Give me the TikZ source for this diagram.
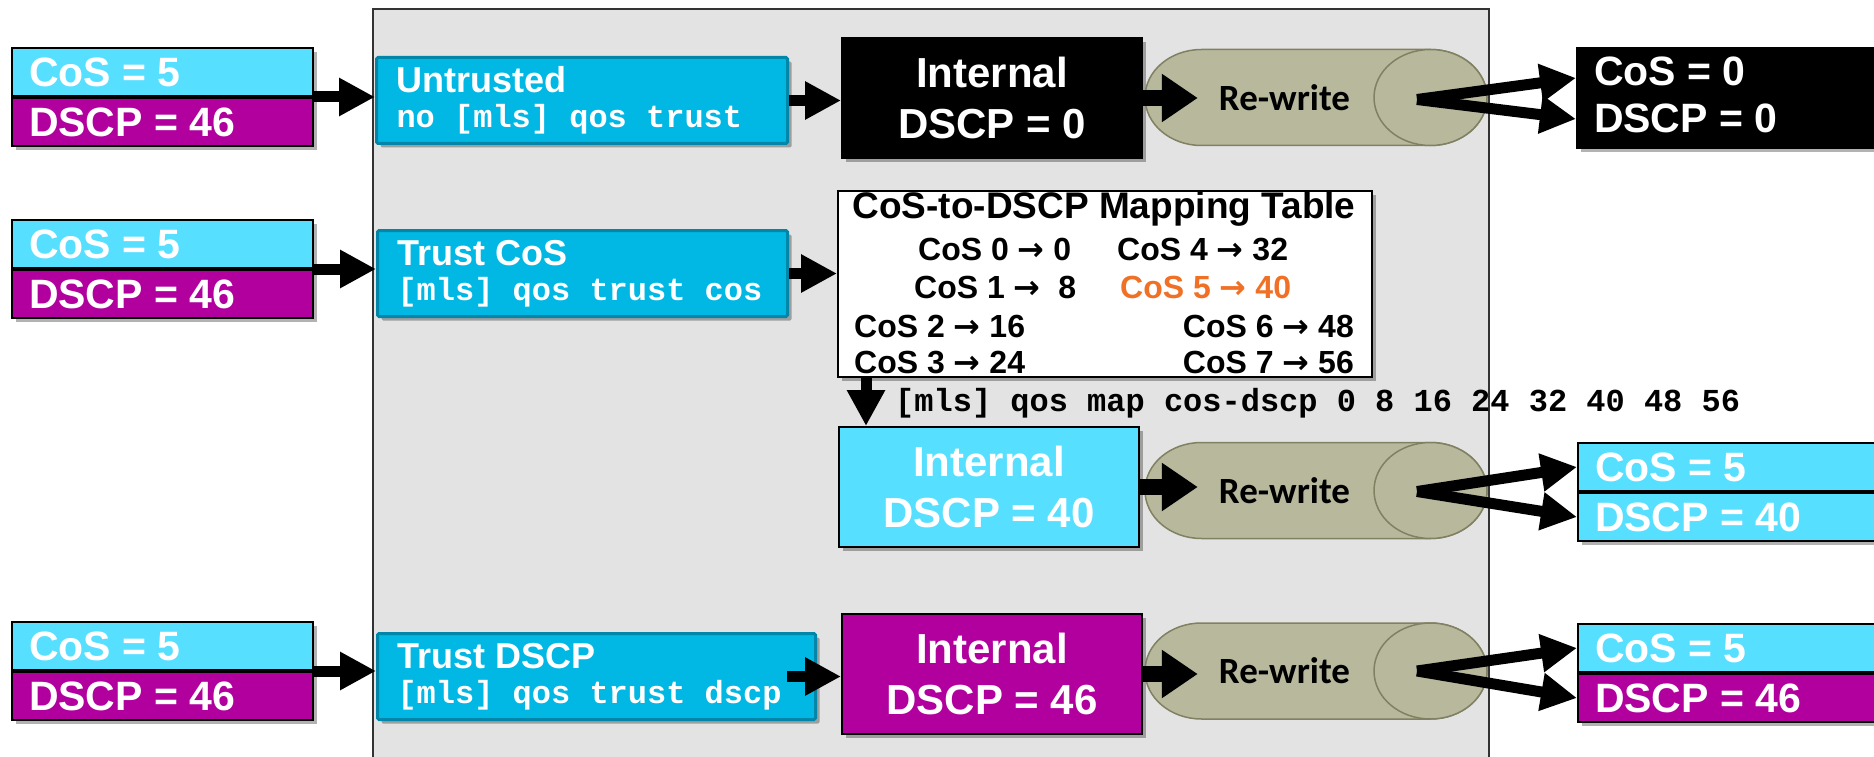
\documentclass[tikz,border=0pt]{standalone}
\usepackage{fontspec}
\setmainfont{Liberation Sans}
\setmonofont{Liberation Mono}
\newfontfamily\arrowfont{DejaVu Sans}
\newfontfamily\rwfont{Carlito}
\usepackage{tikz}
\usetikzlibrary{arrows.meta,positioning,calc,shadows}
\definecolor{pktcyan}{HTML}{57DFFF}
\definecolor{pktpurple}{HTML}{B1009E}
\definecolor{trustfill}{HTML}{00B8E3}
\definecolor{trustline}{HTML}{0086A8}
\definecolor{panelgray}{HTML}{E3E3E3}
\definecolor{rwfill}{HTML}{B8B89D}
\definecolor{rwline}{HTML}{808062}
\definecolor{maporange}{HTML}{F07125}
\newcommand{\mapto}{{\arrowfont\bfseries →}}
% re-write cylinder drawn over an invisible box node
\newcommand{\rwcyl}[1]{%
  \draw[rwpath] ($(#1.north west)+(56.5,0)$) -- ($(#1.north east)+(-56.5,0)$)
    arc[start angle=90,end angle=-90,x radius=56.5pt,y radius=48pt]
    -- ($(#1.south west)+(56.5,0)$)
    arc[start angle=270,end angle=90,x radius=56.5pt,y radius=48pt] -- cycle;
  \draw[rwpath] ($(#1.east)+(-56.5,0)$) ellipse[x radius=56.5pt,y radius=48pt];}

\begin{document}
\begin{tikzpicture}[
    x=1pt, y=-1pt,
    boxshadow/.style={drop shadow={shadow xshift=4pt,shadow yshift=-4pt,fill=black,opacity=.3}},
    pkt/.style={draw=black,line width=2pt,text=white,font=\fontsize{41}{47}\selectfont\bfseries,
      minimum width=301pt,minimum height=48pt,text width=267pt,inner xsep=17pt,inner ysep=0pt,align=flush left,boxshadow},
    pktc/.style={pkt,fill=pktcyan},
    pktd/.style={pkt,fill=pktpurple},
    outw/.style={minimum width=340pt,text width=306pt},
    trust/.style={draw=trustline,line width=3pt,fill=trustfill,rounded corners=1.5pt,text=white,
      font=\fontsize{36}{35}\selectfont\bfseries,minimum height=86pt,inner xsep=20pt,anchor=north west,align=flush left,boxshadow},
    cli/.style={font=\fontsize{32}{35}\selectfont\ttfamily\bfseries},
    intl/.style={draw=black,line width=2pt,text=white,font=\fontsize{42}{51}\selectfont\bfseries,
      minimum width=300pt,minimum height=120pt,anchor=north west,align=center,boxshadow},
    rw/.style={minimum width=342pt,minimum height=96pt,inner sep=0pt,outer sep=0pt},
    rwpath/.style={draw=rwline,line width=1.5pt,fill=rwfill},
    rwt/.style={font=\fontsize{37}{40}\selectfont\rwfont\bfseries,inner xsep=21pt},
    maptxt/.style={font=\fontsize{32}{34}\selectfont\bfseries,anchor=base west,inner sep=0pt},
    big/.style={line width=11pt,-{Triangle[length=36pt,width=36pt]}},
    bigin/.style={line width=16pt,-{Triangle[length=36pt,width=46pt]}}
  ]
  \useasboundingbox (0,0) rectangle (1874,757);
  \clip (0,0) rectangle (1874,757);

  % switch panel
  \node[draw=black!80,line width=2pt,fill=panelgray,anchor=north west,minimum width=1116pt,
    minimum height=800pt,inner sep=0pt] (panel) at (372,8) {};

  % untrusted port
  \node[pktc,anchor=north west] (in1c) at (11,47) {CoS = 5};
  \node[pktd,below=0pt of in1c] (in1d) {DSCP = 46};
  \node[trust,text width=371pt] (tr1) at (375,56)
    {Untrusted\\{\fontsize{32}{35}\selectfont\ttfamily no [mls] qos trust}};
  \node[intl,fill=black] (int1) at (841,37) {Internal\\DSCP = 0};
  \node[rw] (rw1) at (1316,97.5) {};
  \rwcyl{rw1}
  \node[rwt] (rw1t) at (1284.5,97.5) {Re-write};
  \node[pkt,outw,fill=black,anchor=north west,minimum height=100pt] (out1) at (1576,47)
    {CoS = 0\\DSCP = 0\rule[-7pt]{0pt}{7pt}};
  \coordinate (rw1o) at ($(rw1.east)+(-70,2)$);

  % trust cos
  \node[pktc,anchor=north west] (in2c) at (11,219) {CoS = 5};
  \node[pktd,below=0pt of in2c] (in2d) {DSCP = 46};
  \node[trust,text width=370pt] (tr2) at (376,229)
    {Trust CoS\\{\fontsize{32}{35}\selectfont\ttfamily [mls] qos trust cos}};
  \node[draw=black,line width=2pt,fill=white,anchor=north west,minimum width=534pt,
    minimum height=186pt,boxshadow] (tbl) at (837,190) {};
  \node[font=\fontsize{37}{40}\selectfont\bfseries,anchor=base,inner sep=0pt] (ttl) at (1104,218)
    {CoS-to-DSCP Mapping Table};
  \node[maptxt] (m0) at (918,260) {CoS 0 \mapto{} 0};
  \node[maptxt] (m4) at (1117,260) {CoS 4 \mapto{} 32};
  \node[maptxt] (m1) at (914,298) {CoS 1 \mapto{} \ 8};
  \node[maptxt,text=maporange] (m5) at (1120,298) {CoS 5 \mapto{} 40};
  \node[maptxt] (m2) at (854,337) {CoS 2 \mapto{} 16};
  \node[maptxt,anchor=base east] (m6) at (1354,337) {CoS 6 \mapto{} 48};
  \node[maptxt] (m3) at (854,373) {CoS 3 \mapto{} 24};
  \node[maptxt,anchor=base east] (m7) at (1354,373) {CoS 7 \mapto{} 56};
  \node[cli,anchor=base west,inner sep=0pt] (mapcmd) at (895,411)
    {[mls] qos map cos-dscp 0 8 16 24 32 40 48 56};
  \node[intl,fill=pktcyan] (int2) at (838,426) {Internal\\DSCP = 40};
  \node[rw] (rw2) at (1316,490.5) {};
  \rwcyl{rw2}
  \node[rwt] (rw2t) at (1284.5,490.5) {Re-write};
  \node[pkt,outw,fill=pktcyan,anchor=north west] (out2c) at (1577,442) {CoS = 5};
  \node[pkt,outw,fill=pktcyan,below=0pt of out2c] (out2d) {DSCP = 40};
  \coordinate (rw2o) at ($(rw2.east)+(-70,1)$);

  % trust dscp
  \node[pktc,anchor=north west] (in3c) at (11,621) {CoS = 5};
  \node[pktd,below=0pt of in3c] (in3d) {DSCP = 46};
  \node[trust,text width=398pt] (tr3) at (376,632)
    {Trust DSCP\\{\fontsize{32}{35}\selectfont\ttfamily [mls] qos trust dscp}};
  \node[intl,fill=pktpurple] (int3) at (841,613) {Internal\\DSCP = 46};
  \node[rw] (rw3) at (1316,671) {};
  \rwcyl{rw3}
  \node[rwt] (rw3t) at (1284.5,671) {Re-write};
  \node[pkt,outw,fill=pktcyan,anchor=north west] (out3c) at (1577,623) {CoS = 5};
  \node[pkt,outw,fill=pktpurple,below=0pt of out3c] (out3d) {DSCP = 46};
  \coordinate (rw3o) at ($(rw3.east)+(-70,0)$);

  % arrows
  \draw[big] (in1c.south east) -- (in1c.south east -| tr1.west);
  \draw[big] (tr1.east) -- (tr1.east -| int1.west);
  \draw[bigin] (int1.east) -- (int1.east -| rw1t.west);
  \draw[big] (rw1o) -- ($(out1.west)+(0,-20)$);
  \draw[big] (rw1o) -- ($(out1.west)+(0,21)$);

  \draw[big] (in2c.south east) -- (in2c.south east -| tr2.west);
  \draw[big] (tr2.east) -- (tr2.east -| tbl.west);
  \draw[big] ([xshift=29pt]tbl.south west) -- ([xshift=28pt]int2.north west);
  \draw[bigin] (int2.east) -- (int2.east -| rw2t.west);
  \draw[big] (rw2o) -- (out2c.west);
  \draw[big] (rw2o) -- (out2d.west);

  \draw[big] (in3c.south east) -- (in3c.south east -| tr3.west);
  \draw[big] ([xshift=-30pt]tr3.east) -- (tr3.east -| int3.west);
  \draw[bigin] (int3.east) -- (int3.east -| rw3t.west);
  \draw[big] (rw3o) -- (out3c.west);
  \draw[big] (rw3o) -- (out3d.west);
\end{tikzpicture}
\end{document}
